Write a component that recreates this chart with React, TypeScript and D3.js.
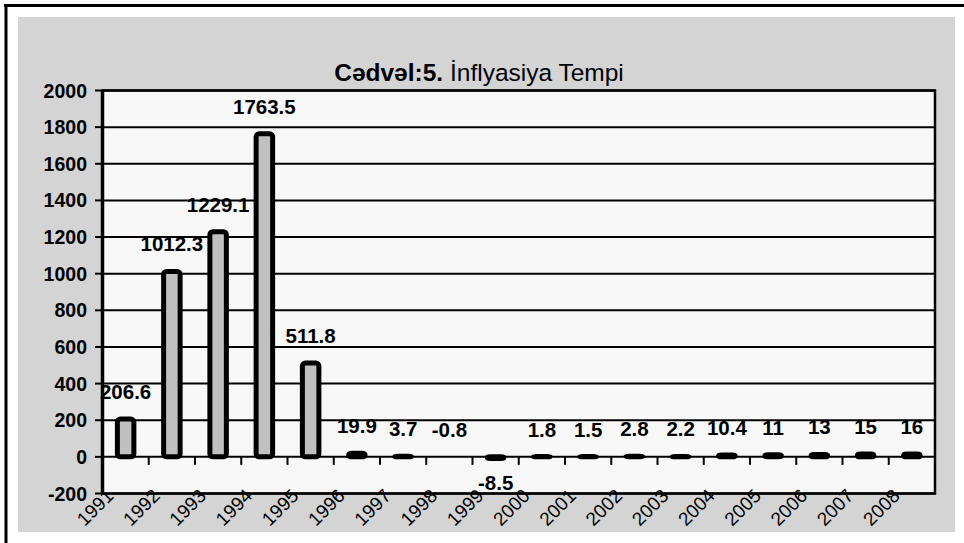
import React from "react";
import * as d3 from "d3";

const years = ["1991","1992","1993","1994","1995","1996","1997","1998","1999","2000","2001","2002","2003","2004","2005","2006","2007","2008"];
const barValues = [206.6, 1012.3, 1229.1, 1763.5, 511.8, 19.9, 3.7, 0, -8.5, 1.8, 1.5, 2.8, 2.2, 10.4, 11, 13, 15, 16];
const valueLabels = ["206.6","1012.3","1229.1","1763.5","511.8","19.9","3.7","-0.8","-8.5","1.8","1.5","2.8","2.2","10.4","11","13","15","16"];
const yTicks = [-200, 0, 200, 400, 600, 800, 1000, 1200, 1400, 1600, 1800, 2000];
const titleBold = "Cədvəl:5.";
const titleRegular = " İnflyasiya Tempi";

const W = 964, H = 543;
const plot = { left: 102.5, right: 935, top: 90.5, bottom: 493.5 };
const FONT = "'Liberation Sans', Arial, sans-serif";

export default function App() {
  const x = d3.scaleBand<string>().domain(years).range([plot.left, plot.right]).padding(0);
  const y = d3.scaleLinear().domain([-200, 2000]).range([plot.bottom, plot.top]);
  const bw = x.bandwidth();
  const barW = 16.5;
  const y0 = y(0);

  return (
    <svg width={W} height={H} style={{ position: "absolute", left: 0, top: 0 }} fontFamily={FONT}>
      <rect x={0} y={0} width={W} height={H} fill="#ffffff" />
      <rect x={18} y={17} width={937} height={515} fill="#d4d4d4" />
      <line x1={4} x2={W} y1={5.5} y2={5.5} stroke="#000" strokeWidth={3} />
      <line x1={6} x2={6} y1={4} y2={H} stroke="#000" strokeWidth={3} />

      <text x={479} y={81} textAnchor="middle" fontSize={24.5} fill="#000">
        <tspan fontWeight="bold">{titleBold}</tspan>
        <tspan>{titleRegular}</tspan>
      </text>

      <rect x={plot.left} y={plot.top} width={plot.right - plot.left} height={plot.bottom - plot.top} fill="#f8f8f8" />

      {yTicks.map((t) => (
        <line key={"g" + t} x1={plot.left} x2={plot.right} y1={y(t)} y2={y(t)} stroke="#000" strokeWidth={2} />
      ))}

      {yTicks.map((t) => (
        <g key={"yt" + t}>
          <line x1={95} x2={plot.left} y1={y(t)} y2={y(t)} stroke="#000" strokeWidth={2} />
          <text x={87} y={y(t)} dy="0.36em" textAnchor="end" fontSize={19.5} fontWeight="bold" fill="#000">{t}</text>
        </g>
      ))}

      {years.map((yr) => (
        <line key={"xt" + yr} x1={x(yr)!} x2={x(yr)!} y1={y0} y2={y0 + 8} stroke="#000" strokeWidth={2} />
      ))}
      <line x1={plot.right} x2={plot.right} y1={y0} y2={y0 + 8} stroke="#000" strokeWidth={2} />

      <rect x={plot.left} y={plot.top} width={plot.right - plot.left} height={plot.bottom - plot.top} fill="none" stroke="#000" strokeWidth={2.5} />
      <line x1={plot.left} x2={plot.left} y1={plot.top} y2={plot.bottom} stroke="#000" strokeWidth={3.5} />

      {years.map((yr, i) => {
        const v = barValues[i];
        if (v === 0) return null;
        const cx = x(yr)! + bw / 2;
        const top = Math.min(y(v), y0);
        const h = Math.abs(y(v) - y0);
        return (
          <rect key={"b" + yr} x={cx - barW / 2} y={top} width={barW} height={h} fill="#c0c0c0" stroke="#000" strokeWidth={5} rx={3} ry={3} />
        );
      })}

      {years.map((yr, i) => {
        const v = barValues[i];
        const cx = x(yr)! + bw / 2;
        const ly = v < 0 ? y(v) + 32 : y(v) - 20;
        return (
          <text key={"l" + yr} x={cx} y={ly} textAnchor="middle" fontSize={20.5} fontWeight="bold" fill="#000">{valueLabels[i]}</text>
        );
      })}

      {years.map((yr) => {
        const cx = x(yr)! + bw / 2 - 11;
        const ly = 497;
        return (
          <text key={"xl" + yr} x={cx} y={ly} textAnchor="end" fontSize={19} fill="#000" transform={`rotate(-45 ${cx} ${ly})`}>{yr}</text>
        );
      })}
    </svg>
  );
}
